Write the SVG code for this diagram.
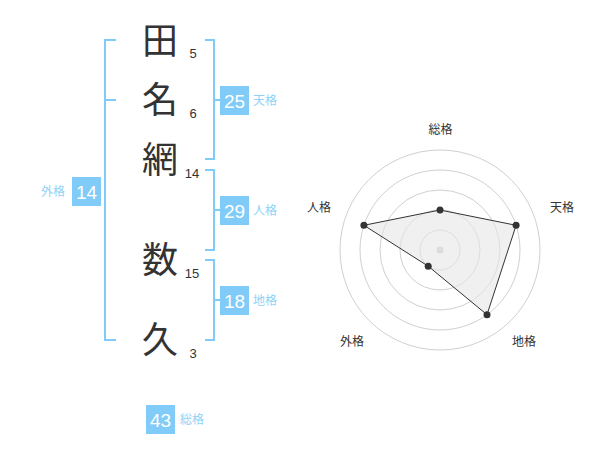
<svg xmlns="http://www.w3.org/2000/svg" width="600" height="470" viewBox="0 0 600 470">
<style>
.ch{font-family:"Noto Sans CJK JP","Noto Sans CJK SC",sans-serif;font-size:36px;fill:#333;text-anchor:middle}
.st{font-family:"Liberation Sans",Arial,sans-serif;font-size:13px;fill:#333;text-anchor:middle}
.br{fill:none;stroke:#80cbf7;stroke-width:2}
.box{fill:#80cbf7}
.bn{font-family:"Liberation Sans",Arial,sans-serif;font-size:19px;fill:#fff;text-anchor:middle}
.bl{font-family:"Noto Sans CJK JP","Noto Sans CJK SC",sans-serif;font-size:12px;fill:#8fd1f7}
.rl{font-family:"Noto Sans CJK JP","Noto Sans CJK SC",sans-serif;font-size:12px;fill:#333;text-anchor:middle}
.ring{fill:none;stroke:#d0d0d0;stroke-width:1}
.pt{fill:#333}
</style>
<rect width="600" height="470" fill="#fff"/>
<g id="chars">
<g id="c1"><text class="ch" x="160" y="54">田</text><text class="st" x="193" y="58">5</text></g>
<g id="c2"><text class="ch" x="160" y="113">名</text><text class="st" x="193" y="118">6</text></g>
<g id="c3"><text class="ch" x="160" y="173">網</text><text class="st" x="192" y="178">14</text></g>
<g id="c4"><text class="ch" x="160" y="273">数</text><text class="st" x="192" y="278">15</text></g>
<g id="c5"><text class="ch" x="160" y="353">久</text><text class="st" x="193" y="358">3</text></g>
</g>
<g id="connectors">
<path class="br" d="M116,40 H105 V340 H116 M105,100 H116"/>
<path class="br" d="M205,40 H214 V159 H205 M214,100 H221"/>
<path class="br" d="M205,170 H214 V250 H205 M214,210 H221"/>
<path class="br" d="M205,260 H214 V340 H205 M214,300 H221"/>
</g>
<g id="tenkaku"><rect class="box" x="220" y="86" width="29" height="29"/><text class="bn" x="234.5" y="107.5">25</text><text class="bl" x="253" y="105">天格</text></g>
<g id="jinkaku"><rect class="box" x="220" y="196" width="29" height="29"/><text class="bn" x="234.5" y="217.5">29</text><text class="bl" x="253" y="215">人格</text></g>
<g id="chikaku"><rect class="box" x="220" y="286" width="29" height="29"/><text class="bn" x="234.5" y="307.5">18</text><text class="bl" x="253" y="305">地格</text></g>
<g id="gaikaku"><rect class="box" x="72" y="177" width="29" height="29"/><text class="bn" x="86.5" y="198.5">14</text><text class="bl" x="41" y="196">外格</text></g>
<g id="soukaku"><rect class="box" x="146" y="405" width="29" height="29"/><text class="bn" x="160.5" y="426.5">43</text><text class="bl" x="180" y="424">総格</text></g>
<g id="radar">
<circle class="ring" cx="440" cy="250" r="20"/>
<circle class="ring" cx="440" cy="250" r="40"/>
<circle class="ring" cx="440" cy="250" r="60"/>
<circle class="ring" cx="440" cy="250" r="80"/>
<circle class="ring" cx="440" cy="250" r="100"/>
<circle cx="440" cy="250" r="3.5" fill="#ccc"/>
<polygon points="440,210 516.1,225.3 487,314.7 428.2,266.2 363.9,225.3" fill="#e6e6e6" fill-opacity="0.6" stroke="#333" stroke-width="1"/>
<circle class="pt" cx="440" cy="210" r="3.5"/>
<circle class="pt" cx="516.1" cy="225.3" r="3.5"/>
<circle class="pt" cx="487" cy="314.7" r="3.5"/>
<circle class="pt" cx="428.2" cy="266.2" r="3.5"/>
<circle class="pt" cx="363.9" cy="225.3" r="3.5"/>
<text class="rl" x="440.5" y="134">総格</text>
<text class="rl" x="562" y="212">天格</text>
<text class="rl" x="319" y="212">人格</text>
<text class="rl" x="352" y="346">外格</text>
<text class="rl" x="524" y="346">地格</text>
</g>
</svg>
